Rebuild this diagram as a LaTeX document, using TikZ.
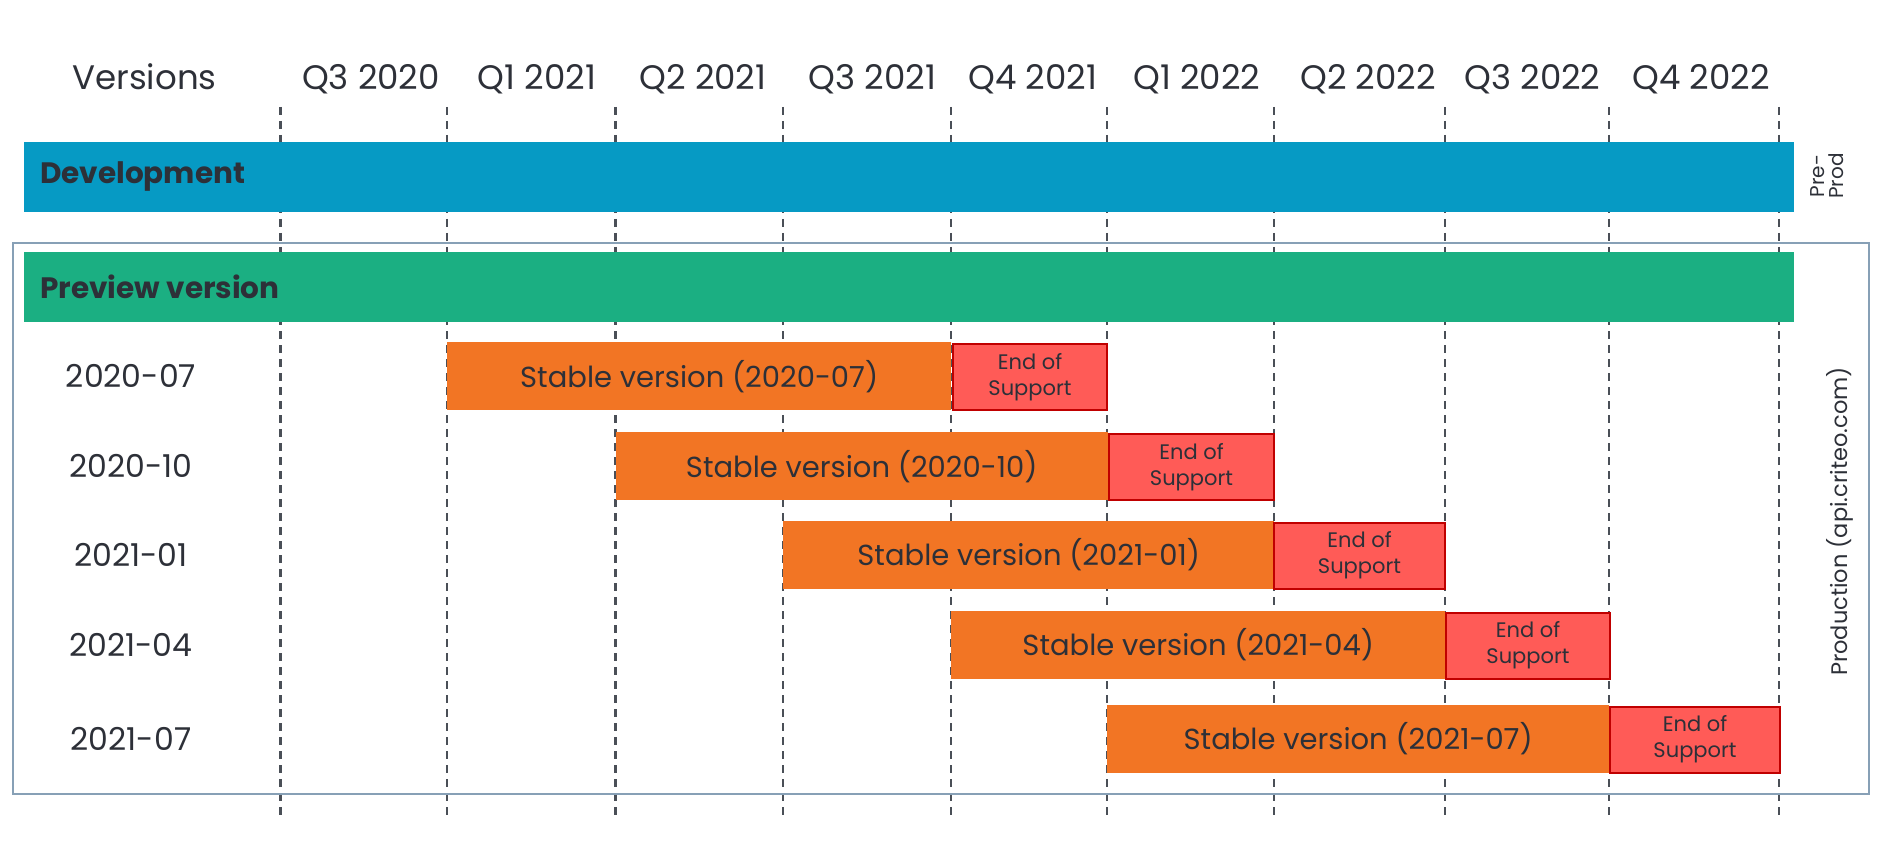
\documentclass[tikz,border=0pt]{standalone}
\usepackage{fontspec}
\setmainfont{Poppins}
\definecolor{devblue}{HTML}{069AC4}
\definecolor{prevgreen}{HTML}{1BAF82}
\definecolor{stableor}{HTML}{F27524}
\definecolor{eosfill}{HTML}{FF5B57}
\definecolor{eosline}{HTML}{C00000}
\definecolor{framec}{HTML}{87A0B6}
\definecolor{txt}{HTML}{2D3038}
\definecolor{dashc}{HTML}{4A4F57}
\tikzset{
  hdr/.style={text=txt, font=\fontsize{34}{38}\selectfont, anchor=base, inner sep=0pt},
  rowlbl/.style={text=txt, font=\fontsize{31.5}{36}\selectfont, anchor=center, inner sep=0pt},
  band/.style={anchor=north west, inner sep=0pt, minimum height=69.7pt, minimum width=1770pt},
  bandtxt/.style={text=txt, font=\bfseries\fontsize{29.5}{34}\selectfont, anchor=west, inner sep=0pt},
  stablebar/.style={fill=stableor, anchor=north west, inner sep=0pt, minimum height=68pt, text=txt, font=\fontsize{29}{34}\selectfont},
  eosbox/.style={fill=eosfill, draw=eosline, line width=2pt, anchor=north west, inner sep=0pt, minimum height=66pt, text=txt, align=center, font=\fontsize{21}{26}\selectfont},
  gridline/.style={dashc, line width=2.3pt, dash pattern=on 8pt off 6pt},
  sidelbl/.style={text=txt, rotate=90, inner sep=0pt, anchor=center}
}
\begin{document}
\begin{tikzpicture}[x=1pt,y=-1pt]
\useasboundingbox (0,0) rectangle (1884,850);
% grid lines
\foreach \gx [count=\i] in {280.5,447,615.5,783,951,1107,1274,1445,1609,1779.3}{
  \coordinate (gt\i) at (\gx,107);
  \coordinate (gb\i) at (\gx,816);
  \draw[gridline] (gt\i) -- (gb\i);
}
% header
\node[hdr] (hv) at (144.5,90) {Versions};
\node[hdr] (q1) at (371,90) {Q3 2020};
\node[hdr] (q2) at (537,90) {Q1 2021};
\node[hdr] (q3) at (703,90) {Q2 2021};
\node[hdr] (q4) at (872.5,90) {Q3 2021};
\node[hdr] (q5) at (1033,90) {Q4 2021};
\node[hdr] (q6) at (1197,90) {Q1 2022};
\node[hdr] (q7) at (1368,90) {Q2 2022};
\node[hdr] (q8) at (1532.5,90) {Q3 2022};
\node[hdr] (q9) at (1701,90) {Q4 2022};
% development band
\node[band, fill=devblue] (dev) at (24,142) {};
\node[bandtxt] (devt) at (40,176.8) {Development};
\node[sidelbl, align=center, font=\fontsize{20}{19}\selectfont] (pre) at (1827,176) {Pre-\\Prod};
% production frame
\draw[framec, line width=2pt] (12.5,243) rectangle (1868.7,794.3);
\node[band, fill=prevgreen] (prev) at (24,252) {};
\node[bandtxt] (prevt) at (40,286.8) {Preview version};
\node[sidelbl, font=\fontsize{22.5}{24}\selectfont] (prod) at (1840,521.5) {Production (api.criteo.com)};
% rows
\node[rowlbl] (r1) at (131,376) {2020-07};
\node[rowlbl] (r2) at (131,466) {2020-10};
\node[rowlbl] (r3) at (131,554.5) {2021-01};
\node[rowlbl] (r4) at (131,645) {2021-04};
\node[rowlbl] (r5) at (131,739) {2021-07};
\node[stablebar, minimum width=504pt] (s1) at (447,342) {Stable version (2020-07)};
\node[eosbox, minimum width=154pt] (e1) at (952,343) {End of\\Support};
\node[stablebar, minimum width=492pt] (s2) at (615.5,432) {Stable version (2020-10)};
\node[eosbox, minimum width=165pt] (e2) at (1108,433) {End of\\Support};
\node[stablebar, minimum width=491pt] (s3) at (783,520.5) {Stable version (2021-01)};
\node[eosbox, minimum width=171pt] (e3) at (1273,521.5) {End of\\Support};
\node[stablebar, minimum width=494pt] (s4) at (951,610.5) {Stable version (2021-04)};
\node[eosbox, minimum width=164pt] (e4) at (1445,611.5) {End of\\Support};
\node[stablebar, minimum width=502pt] (s5) at (1107,704.5) {Stable version (2021-07)};
\node[eosbox, minimum width=170pt] (e5) at (1609,705.5) {End of\\Support};
\end{tikzpicture}
\end{document}
